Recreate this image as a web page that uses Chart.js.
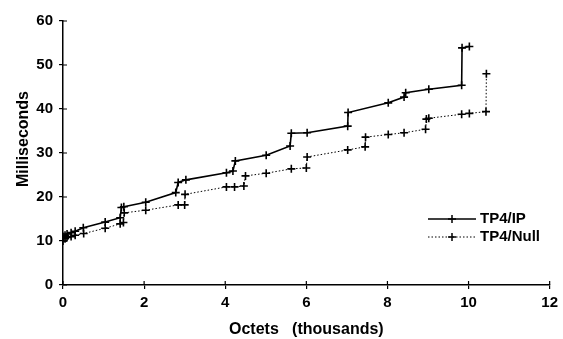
<!DOCTYPE html>
<html>
<head>
<meta charset="utf-8">
<script src="https://cdn.jsdelivr.net/npm/chart.js@4.4.0/dist/chart.umd.min.js"></script>
<style>
  html, body { margin: 0; padding: 0; background: #fff; }
  #wrap { width: 563px; height: 339px; }
</style>
</head>
<body>
<div id="wrap"><canvas id="c" width="563" height="339"></canvas></div>
<script>
// ---- Data ----
const xTicks = [0, 2, 4, 6, 8, 10, 12];
const yTicks = [0, 10, 20, 30, 40, 50, 60];
const xTitle = 'Octets   (thousands)';
const yTitle = 'Milliseconds';

const ipLabel = "TP4/IP";
const ipX = [0, 0.05, 0.1, 0.2, 0.3, 0.5, 1.04, 1.41, 1.44, 1.5, 2.04, 2.78, 2.84, 3.03, 4.03, 4.19, 4.25, 5.01, 5.6, 5.63, 6.02, 7.02, 7.03, 8.02, 8.41, 8.45, 9.02, 9.83, 9.84, 10.02];
const ipY = [11.0, 11.3, 11.6, 11.9, 12.2, 13.0, 14.3, 15.3, 17.6, 17.8, 18.8, 21.0, 23.3, 23.9, 25.5, 25.9, 28.2, 29.5, 31.6, 34.5, 34.6, 36.1, 39.2, 41.4, 42.7, 43.7, 44.5, 45.4, 53.9, 54.2];

const nullLabel = "TP4/Null";
const nullX = [0, 0.05, 0.1, 0.2, 0.3, 0.51, 1.04, 1.41, 1.49, 1.51, 2.04, 2.84, 3.0, 3.01, 4.03, 4.23, 4.46, 4.5, 5.01, 5.63, 6.0, 6.02, 7.02, 7.45, 7.46, 8.02, 8.41, 8.94, 8.96, 9.02, 9.83, 10.02, 10.43, 10.44];
const nullY = [10.0, 10.5, 10.8, 11.0, 11.3, 11.7, 12.9, 13.9, 14.2, 16.4, 17.0, 18.2, 18.2, 20.6, 22.3, 22.3, 22.5, 24.8, 25.4, 26.4, 26.6, 29.1, 30.7, 31.4, 33.6, 34.2, 34.6, 35.4, 37.7, 37.9, 38.8, 39.0, 39.4, 48.0];

const toPts = (xs, ys) => xs.map((x, i) => ({ x: x, y: ys[i] }));

const FONT = "'Liberation Sans', Arial, Helvetica, sans-serif";

// ticks that cross the axis line (inner part)
const innerTicks = {
  id: 'innerTicks',
  afterDraw(chart) {
    const ctx = chart.ctx;
    const xs = chart.scales.x, ys = chart.scales.y;
    const ca = chart.chartArea;
    ctx.save();
    ctx.strokeStyle = '#000';
    ctx.lineWidth = 1.2;
    ctx.beginPath();
    xTicks.forEach(v => {
      const px = xs.getPixelForValue(v);
      ctx.moveTo(px, ca.bottom); ctx.lineTo(px, ca.bottom - 4);
    });
    yTicks.forEach(v => {
      const py = ys.getPixelForValue(v);
      ctx.moveTo(ca.left, py); ctx.lineTo(ca.left + 4, py);
    });
    ctx.stroke();
    ctx.restore();
  }
};

// y-axis title, placed as in the reference (slightly above centre)
const yTitlePlugin = {
  id: 'yTitlePlugin',
  afterDraw(chart) {
    const ctx = chart.ctx;
    ctx.save();
    ctx.translate(24, 139);
    ctx.rotate(-Math.PI / 2);
    ctx.fillStyle = '#000';
    ctx.font = "bold 16px " + FONT;
    ctx.textAlign = 'center';
    ctx.textBaseline = 'middle';
    ctx.fillText(yTitle, 0, 0);
    ctx.restore();
  }
};

// legend drawn inside plot, line + cross marker + label
const insideLegend = {
  id: 'insideLegend',
  afterDraw(chart) {
    const ctx = chart.ctx;
    const items = [
      { ds: chart.data.datasets[0], y: 219 },
      { ds: chart.data.datasets[1], y: 237 }
    ];
    ctx.save();
    items.forEach(it => {
      const x0 = 428, x1 = 476, xm = 452;
      ctx.strokeStyle = '#000';
      ctx.lineWidth = it.ds.borderWidth;
      ctx.setLineDash(it.ds.borderDash || []);
      ctx.beginPath();
      ctx.moveTo(x0, it.y); ctx.lineTo(x1, it.y);
      ctx.stroke();
      ctx.setLineDash([]);
      ctx.lineWidth = 1.5;
      ctx.beginPath();
      ctx.moveTo(xm - 4, it.y); ctx.lineTo(xm + 4, it.y);
      ctx.moveTo(xm, it.y - 4); ctx.lineTo(xm, it.y + 4);
      ctx.stroke();
      ctx.fillStyle = '#000';
      ctx.font = "bold 15px " + FONT;
      ctx.textBaseline = 'middle';
      ctx.textAlign = 'left';
      ctx.fillText(it.ds.label, 480, it.y);
    });
    ctx.restore();
  }
};

new Chart(document.getElementById('c'), {
  type: 'line',
  data: {
    datasets: [
      {
        label: ipLabel,
        data: toPts(ipX, ipY),
        borderColor: '#000',
        backgroundColor: '#000',
        borderWidth: 1.6,
        pointStyle: 'cross',
        pointRadius: 4,
        pointBorderWidth: 1.6,
        tension: 0,
        fill: false
      },
      {
        label: nullLabel,
        data: toPts(nullX, nullY),
        borderColor: '#000',
        backgroundColor: '#000',
        borderWidth: 1,
        borderDash: [1.5, 2],
        pointStyle: 'cross',
        pointRadius: 4,
        pointBorderWidth: 1.6,
        tension: 0,
        fill: false
      }
    ]
  },
  options: {
    responsive: false,
    animation: false,
    devicePixelRatio: 1,
    layout: { padding: { top: 21, right: 12, left: 0, bottom: 0 } },
    plugins: {
      legend: { display: false },
      tooltip: { enabled: false }
    },
    scales: {
      x: {
        type: 'linear',
        min: 0, max: 12,
        afterBuildTicks: s => { s.ticks = xTicks.map(v => ({ value: v })); },
        afterFit: s => { s.height = 54; },
        grid: { display: true, drawOnChartArea: false, drawTicks: true, tickLength: 4, color: '#000', lineWidth: 1.2 },
        border: { display: true, color: '#000', width: 1.5 },
        ticks: { color: '#000', font: { family: FONT, size: 15, weight: 'bold' }, padding: 5, maxRotation: 0 },
        title: { display: true, text: xTitle, color: '#000', font: { family: FONT, size: 16, weight: 'bold' }, padding: { top: 2, bottom: 0 } }
      },
      y: {
        type: 'linear',
        min: 0, max: 60,
        afterBuildTicks: s => { s.ticks = yTicks.map(v => ({ value: v })); },
        afterFit: s => { s.width = 63; },
        grid: { display: true, drawOnChartArea: false, drawTicks: true, tickLength: 4, color: '#000', lineWidth: 1.2 },
        border: { display: true, color: '#000', width: 1.5 },
        ticks: { color: '#000', font: { family: FONT, size: 15, weight: 'bold' }, padding: 6 },
        title: { display: false }
      }
    }
  },
  plugins: [innerTicks, yTitlePlugin, insideLegend]
});
</script>
</body>
</html>
